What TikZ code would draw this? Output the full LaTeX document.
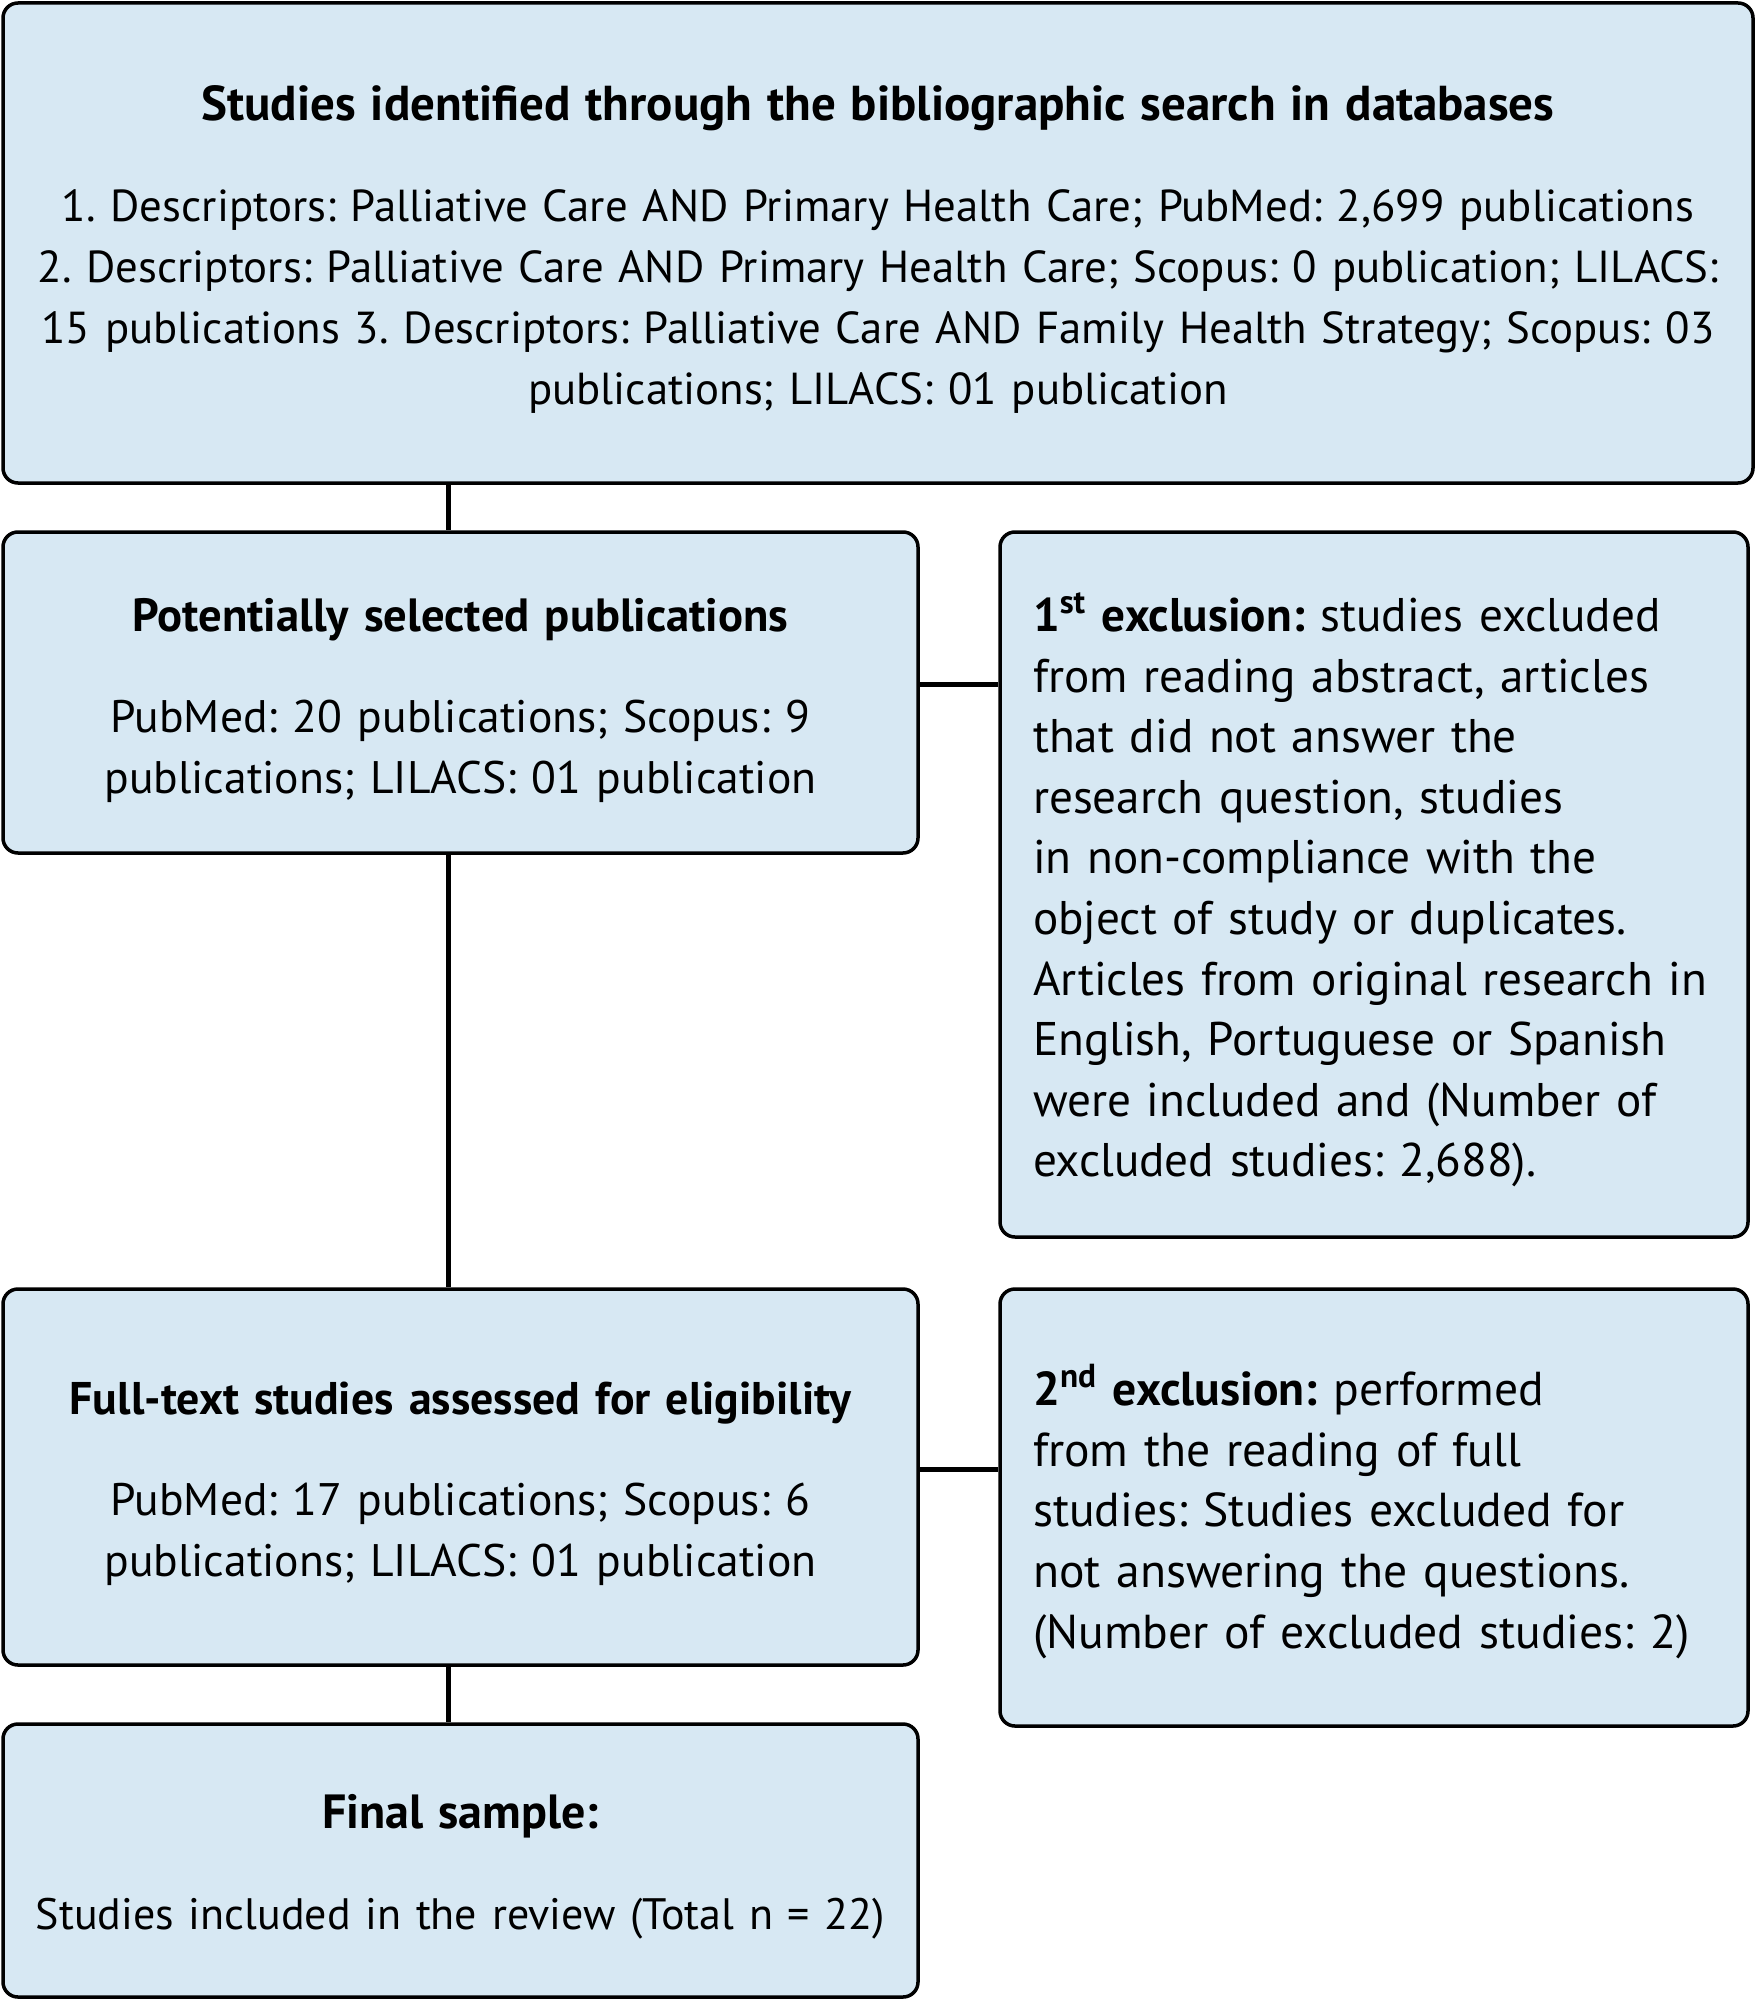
\documentclass[tikz,border=0pt]{standalone}
\usepackage{fontspec}
\setmainfont{PT Sans}
\frenchspacing
\definecolor{boxfill}{RGB}{215,232,243}
\newcommand{\boxtitle}[2]{{\fontsize{#1}{30.5}\selectfont\bfseries #2}}
\tikzset{
  flowbox/.style={draw=black, line width=1.75pt, fill=boxfill, rounded corners=7.5pt, inner sep=0pt},
  boxtext/.style={inner sep=0pt},
  link/.style={draw=black, line width=2.5pt}
}
\begin{document}
\begin{tikzpicture}[x=0.5pt,y=-0.5pt]
\useasboundingbox (0,0) rectangle (1756,2000);
% boxes
\node[flowbox, minimum width=875pt, minimum height=240pt] (top) at (878,243) {};
\node[flowbox, minimum width=457.5pt, minimum height=160.5pt] (pot) at (460.5,692.5) {};
\node[flowbox, minimum width=374pt, minimum height=352.5pt] (ex1) at (1374,884.5) {};
\node[flowbox, minimum width=457.5pt, minimum height=188pt] (full) at (460.5,1477) {};
\node[flowbox, minimum width=374pt, minimum height=218.5pt] (ex2) at (1374,1507.5) {};
\node[flowbox, minimum width=457.5pt, minimum height=136.5pt] (final) at (460.5,1860.5) {};
% texts
\node[boxtext, font=\fontsize{22.4}{30.5}\selectfont, text width=860pt, align=center] (topt) at (878,249)
 {\boxtitle{24.5}{Studies identified through the bibliographic search in databases}\\[20pt]
  1. Descriptors: Palliative Care AND Primary Health Care; PubMed: 2,699 publications\\
  2. Descriptors: Palliative Care AND Primary Health Care; Scopus: 0 publication; LILACS:\\
  15 publications 3. Descriptors: Palliative Care AND Family Health Strategy; Scopus: 03\\
  publications; LILACS: 01 publication};
\node[boxtext, font=\fontsize{22.8}{30.5}\selectfont, text width=440pt, align=center] (pott) at (460.5,700)
 {\boxtitle{23.3}{Potentially selected publications}\\[20pt]
  PubMed: 20 publications; Scopus: 9\\
  publications; LILACS: 01 publication};
\node[boxtext, font=\fontsize{23.6}{30.3}\selectfont, text width=341pt, align=left] (ex1t) at (1374,890)
 {\textbf{1\textsuperscript{st} exclusion:} studies excluded\\
  from reading abstract, articles\\
  that did not answer the\\
  research question, studies\\
  in non-compliance with the\\
  object of study or duplicates.\\
  Articles from original research in\\
  English, Portuguese or Spanish\\
  were included and (Number of\\
  excluded studies: 2,688).};
\node[boxtext, font=\fontsize{22.8}{30.5}\selectfont, text width=440pt, align=center] (fullt) at (460.5,1484)
 {\boxtitle{22.9}{Full-text studies assessed for eligibility}\\[20pt]
  PubMed: 17 publications; Scopus: 6\\
  publications; LILACS: 01 publication};
\node[boxtext, font=\fontsize{23.8}{30.3}\selectfont, text width=341pt, align=left] (ex2t) at (1374,1511.5)
 {\textbf{2\textsuperscript{nd} exclusion:} performed\\
  from the reading of full\\
  studies: Studies excluded for\\
  not answering the questions.\\
  (Number of excluded studies: 2)};
\node[boxtext, font=\fontsize{22}{30.5}\selectfont, text width=440pt, align=center] (finalt) at (460.5,1866.5)
 {\boxtitle{24}{Final sample:}\\[20pt]
  Studies included in the review (Total n = 22)};
% connectors
\coordinate (vline) at (448,0);
\coordinate (h1) at (0,684);
\coordinate (h2) at (0,1469);
\draw[link] (top.south -| vline) -- (pot.north -| vline);
\draw[link] (pot.south -| vline) -- (full.north -| vline);
\draw[link] (full.south -| vline) -- (final.north -| vline);
\draw[link] (pot.east |- h1) -- (ex1.west |- h1);
\draw[link] (full.east |- h2) -- (ex2.west |- h2);
\end{tikzpicture}
\end{document}
